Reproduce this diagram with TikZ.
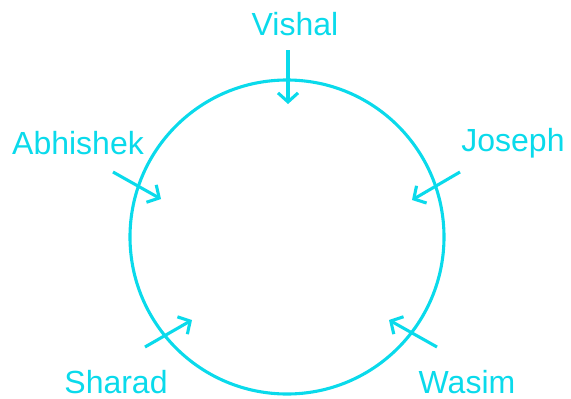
\documentclass[tikz,border=0pt]{standalone}
\usepackage{fontspec}
\setmainfont{Liberation Sans}
\usetikzlibrary{arrows.meta}
\definecolor{cyanline}{RGB}{10,218,235}
\begin{document}
\begin{tikzpicture}[x=1pt,y=-1pt,
  lbl/.style={text=cyanline,font=\fontsize{32}{35}\selectfont,inner sep=0pt,anchor=center},
  arr/.style={draw=cyanline,line width=3.1pt,-{Straight Barb[length=9pt,width=20pt,line width=3.1pt]}},
  ring/.style={draw=cyanline,line width=3.1pt,circle,minimum size=314pt,inner sep=0pt}]
\useasboundingbox (0,0) rectangle (571,399);
\node[ring] (c) at (287,237) {};
\node[lbl] (vishal) at (295,24) {Vishal};
\node[lbl] (abhishek) at (78,143) {Abhishek};
\node[lbl] (joseph) at (513,143) {Joseph};
\node[lbl] (sharad) at (116,382) {Sharad};
\node[lbl] (wasim) at (467,382) {Wasim};
\coordinate (v1) at (288,50); \coordinate (v2) at (288,104);
\coordinate (a1) at (113,172); \coordinate (a2) at (161,199);
\coordinate (j1) at (460,172); \coordinate (j2) at (412,200);
\coordinate (s1) at (145,347); \coordinate (s2) at (192,320);
\coordinate (w1) at (437,347); \coordinate (w2) at (389,320);
\draw[arr] (v1) -- (v2);
\draw[arr] (a1) -- (a2);
\draw[arr] (j1) -- (j2);
\draw[arr] (s1) -- (s2);
\draw[arr] (w1) -- (w2);
\end{tikzpicture}
\end{document}
